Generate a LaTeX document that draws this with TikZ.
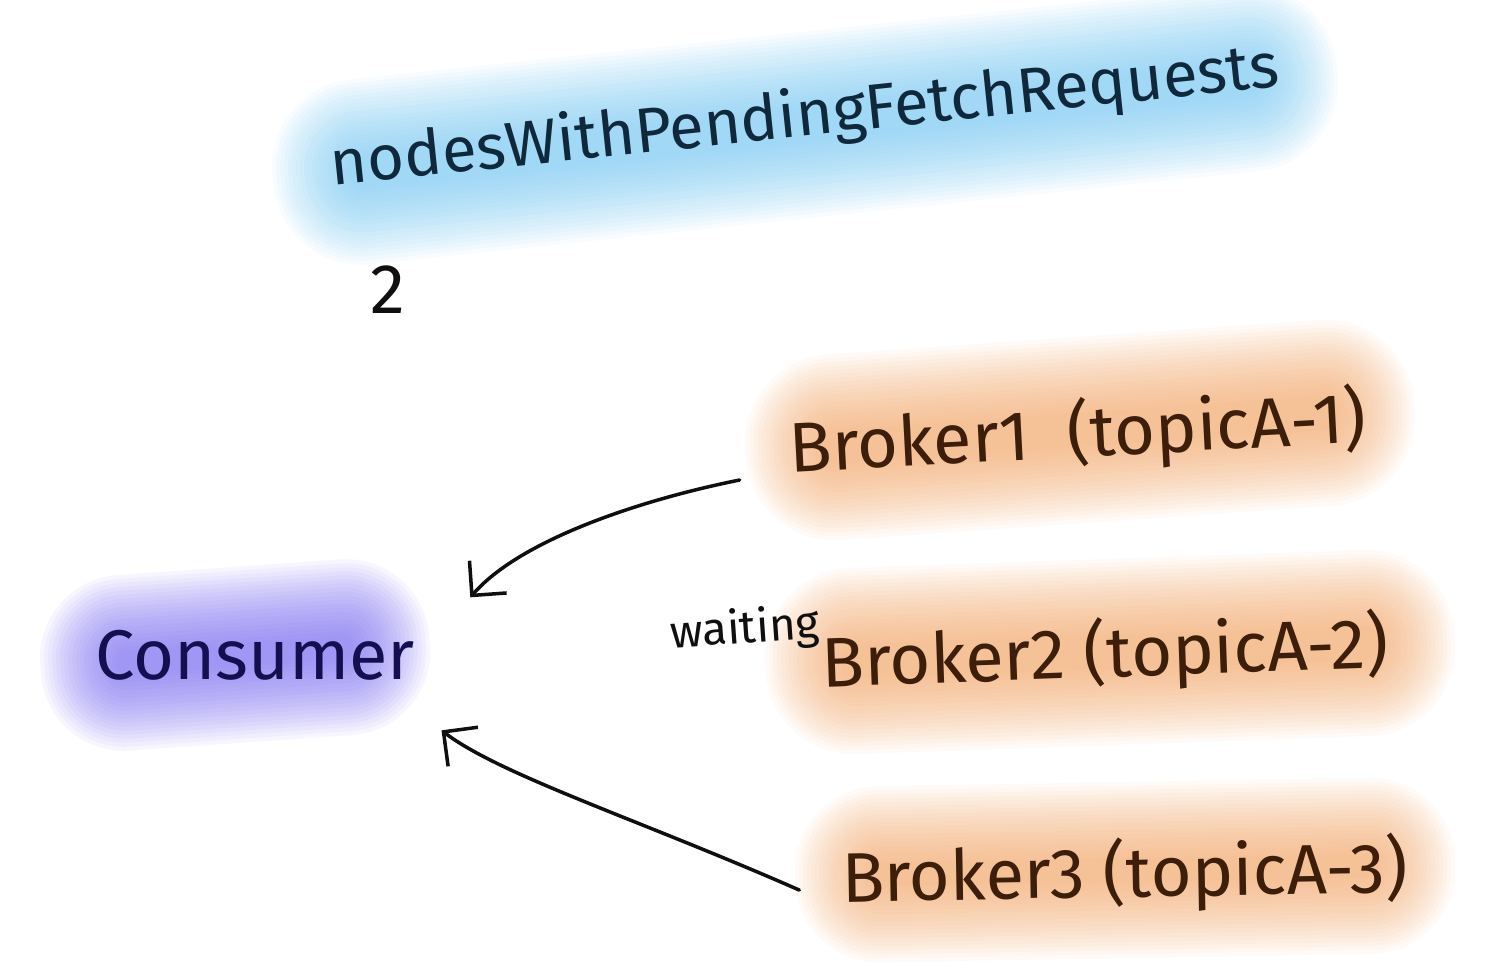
\documentclass[tikz,border=0pt]{standalone}
\usepackage{fontspec}
\setmainfont{Fira Sans}
\usetikzlibrary{arrows.meta,calc}
\definecolor{hlblue}{RGB}{110,195,240}
\definecolor{hlorange}{RGB}{240,160,95}
\definecolor{hlpurple}{RGB}{120,105,240}
\definecolor{ink}{RGB}{15,15,15}
\definecolor{inkblue}{RGB}{15,40,60}
\definecolor{inknavy}{RGB}{20,15,80}
\definecolor{inkbrown}{RGB}{60,30,10}
\newcommand\myglow[7]{%
  \begin{scope}[shift={(#2,#3)},rotate=#6]
  \foreach \k in {0,...,19}{%
    \pgfmathsetmacro\hw{#4/2+35-\k*4}
    \pgfmathsetmacro\hh{#5/2+38-\k*4}
    \pgfmathsetmacro\rc{min(\hh,\hw)*0.567*0.95}
    \fill[#1,fill opacity=#7,rounded corners=\rc pt] (-\hw,-\hh) rectangle (\hw,\hh);
  }
  \end{scope}}
\tikzset{
  lbl/.style={inner sep=4pt,font=\fontsize{40}{44}\selectfont},
  ttl/.style={text=inkblue,inner sep=4pt,font=\fontsize{36}{40}\selectfont},
  sml/.style={text=ink,inner sep=2pt,font=\fontsize{26}{30}\selectfont},
  arr/.style={draw=ink,line width=2pt,line cap=round,-{Straight Barb[length=14pt,width=28pt,line width=2pt]}}
}
\begin{document}
\begin{tikzpicture}[x=0.02cm,y=-0.02cm]
\useasboundingbox (0,0) rectangle (1490,978);
% highlights
\myglow{hlblue}{805}{125}{1000}{110}{6}{0.052}
\myglow{hlorange}{1080}{430}{600}{110}{4}{0.052}
\myglow{hlorange}{1110}{652}{620}{110}{2}{0.052}
\myglow{hlorange}{1125}{870}{590}{100}{1}{0.052}
\myglow{hlpurple}{235}{655}{320}{100}{4}{0.06}
% texts
\node[ttl,rotate=6] (title) at (805,118) {nodesWithPendingFetchRequests};
\node[lbl,text=ink] (two) at (388,290) {2};
\node[lbl,text=inkbrown,rotate=3] (b1) at (1078,435) {Broker1 \ (topicA-1)};
\node[lbl,text=inkbrown,rotate=2] (b2) at (1105,655) {Broker2 (topicA-2)};
\node[lbl,text=inkbrown,rotate=1] (b3) at (1125,875) {Broker3 (topicA-3)};
\node[lbl,text=inknavy,minimum width=8.6cm,minimum height=3cm] (consumer) at (255,655) {Consumer};
\node[sml,rotate=4] (waiting) at (745,630) {waiting};
% connectors
\draw[arr] ($(b1.south west)+(-45,-15)$) .. controls (640,500) and (520,540) .. (consumer.15);
\draw[arr] ($(b3.west)+(-35,10)$) .. controls (640,820) and (500,775) .. (consumer.-22);
\end{tikzpicture}
\end{document}
